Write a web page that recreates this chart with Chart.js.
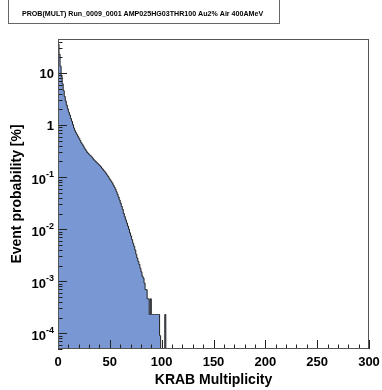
<!DOCTYPE html>
<html>
<head>
<meta charset="utf-8">
<script src="https://cdn.jsdelivr.net/npm/chart.js@4.4.1/dist/chart.umd.min.js"></script>
<style>
  html, body { margin: 0; padding: 0; background: #fff; }
  canvas { display: block; }
</style>
</head>
<body>
<canvas id="c" width="382" height="390"></canvas>
<script>
// Event probability [%] per KRAB multiplicity bin (bin m covers [m, m+1))
const binValues = [
  38.0, 36.0, 23.0, 13.5, 8.6, 6.2, 4.6, 3.55, 2.9, 2.42,
  2.05, 1.77, 1.56, 1.34, 1.18, 1.02, 0.88, 0.78, 0.71, 0.655,
  0.60, 0.555, 0.505, 0.46, 0.43, 0.40, 0.365, 0.34, 0.318, 0.296,
  0.283, 0.268, 0.258, 0.246, 0.233, 0.219, 0.208, 0.199, 0.190, 0.182,
  0.174, 0.166, 0.158, 0.148, 0.141, 0.132, 0.126, 0.118, 0.110, 0.103,
  0.0955, 0.0890, 0.0830, 0.0775, 0.0705, 0.0648, 0.0590, 0.0525, 0.0468, 0.0415,
  0.0363, 0.0318, 0.0275, 0.0240, 0.0200, 0.0174, 0.0151, 0.0132, 0.0115, 0.0100,
  0.0085, 0.0074, 0.0063, 0.0054, 0.0047, 0.0040, 0.0033, 0.0028, 0.0024, 0.0021,
  0.00178, 0.00152, 0.00126, 0.00115, 0.00092, 0.00069, 0.00069, 0.00046, 0.00046, 0.00023,
  0.00046, 0.00023, 0.00023, 0.00023, 0.00023, 0.00023, 0.00023, 0.00023, 0.00023, 0.00009,
  0, 0, 0, 0, 0.00023, 0
];
const multiplicity = binValues.map((_, i) => i);

const xTickValues = [0, 50, 100, 150, 200, 250, 300];
const yDecades = [1e-4, 1e-3, 1e-2, 1e-1, 1, 10];
const xRange = [0, 300];
const yRange = [5e-5, 45];
const histTitle = 'PROB(MULT) Run_0009_0001 AMP025HG03THR100 Au2% Air 400AMeV';

const FONT = '"Liberation Sans", Arial, Helvetica, sans-serif';

// title box in the top-left corner
const titleBox = {
  id: 'titleBox',
  afterDraw(chart) {
    const ctx = chart.ctx;
    ctx.save();
    ctx.fillStyle = '#fff';
    ctx.fillRect(8, -1, 272, 26);
    ctx.strokeStyle = '#666';
    ctx.lineWidth = 1;
    ctx.strokeRect(8.5, -1.5, 271, 25);
    ctx.fillStyle = '#000';
    ctx.font = 'bold 7.1px ' + FONT;
    ctx.textAlign = 'left';
    ctx.textBaseline = 'middle';
    ctx.fillText(histTitle, 22, 14);
    ctx.restore();
  }
};

// ROOT-style frame, inward ticks and power-of-ten labels
const rootAxes = {
  id: 'rootAxes',
  afterDatasetsDraw(chart) {
    const { ctx, chartArea, scales: { x, y } } = chart;
    const left = Math.round(chartArea.left), right = Math.round(chartArea.right);
    const top = Math.round(chartArea.top), bottom = Math.round(chartArea.bottom);
    ctx.save();
    ctx.strokeStyle = '#222';
    ctx.lineWidth = 1;
    ctx.beginPath();
    for (let v = xRange[0]; v <= xRange[1]; v += 10) {
      const px = Math.round(x.getPixelForValue(v)) + 0.5;
      const len = v % 50 === 0 ? 9 : 4.5;
      ctx.moveTo(px, bottom);
      ctx.lineTo(px, bottom - len);
    }
    for (let e = -5; e <= 1; e++) {
      for (let k = 1; k <= 9; k++) {
        const v = k * Math.pow(10, e);
        if (v < yRange[0] || v > yRange[1]) continue;
        const py = Math.round(y.getPixelForValue(v)) + 0.5;
        const len = k === 1 ? 9 : 4.5;
        ctx.moveTo(left, py);
        ctx.lineTo(left + len, py);
      }
    }
    ctx.stroke();
    ctx.strokeStyle = '#555';
    ctx.strokeRect(left + 0.5, top + 0.5, right - left - 1, bottom - top - 1);

    // y labels
    ctx.fillStyle = '#000';
    ctx.textBaseline = 'middle';
    const xr = 54;
    yDecades.forEach(v => {
      const py = y.getPixelForValue(v);
      const e = Math.round(Math.log10(v));
      ctx.textAlign = 'right';
      if (e === 0 || e === 1) {
        ctx.font = 'bold 13px ' + FONT;
        ctx.fillText(e === 0 ? '1' : '10', xr, py + 1);
      } else {
        ctx.font = 'bold 9px ' + FONT;
        const ex = String(e);
        const w = ctx.measureText(ex).width;
        ctx.fillText(ex, xr, py - 3);
        ctx.font = 'bold 13px ' + FONT;
        ctx.fillText('10', xr - w, py + 3);
      }
    });
    ctx.restore();
  }
};

new Chart(document.getElementById('c'), {
  type: 'line',
  data: {
    datasets: [{
      // empty bins sit on the lower edge of the log axis
      data: multiplicity.map((m, i) => ({ x: m, y: binValues[i] > 0 ? binValues[i] : yRange[0] })),
      stepped: 'after',
      borderColor: '#222',
      borderWidth: 1,
      backgroundColor: 'rgb(121,151,210)',
      fill: 'start',
      pointRadius: 0,
      tension: 0
    }]
  },
  options: {
    responsive: false,
    animation: false,
    devicePixelRatio: 1,
    layout: { padding: { left: 0, right: 13, top: 39, bottom: 0 } },
    plugins: { legend: { display: false }, tooltip: { enabled: false } },
    scales: {
      x: {
        type: 'linear',
        min: xRange[0], max: xRange[1],
        afterBuildTicks: s => { s.ticks = xTickValues.map(v => ({ value: v })); },
        grid: { display: false, drawTicks: false },
        border: { display: false },
        ticks: { color: '#000', font: { family: FONT, size: 13, weight: 'bold' }, padding: 6, maxRotation: 0, autoSkip: false },
        title: { display: true, text: 'KRAB Multiplicity', color: '#000',
                 font: { family: FONT, size: 14, weight: 'bold' }, padding: { top: 0, bottom: 1 } },
        afterFit: s => { s.height = 41; s.paddingLeft = 0; s.paddingRight = 0; }
      },
      y: {
        type: 'logarithmic',
        min: yRange[0], max: yRange[1],
        afterBuildTicks: s => { s.ticks = yDecades.map(v => ({ value: v })); },
        grid: { display: false, drawTicks: false },
        border: { display: false },
        ticks: { display: false },
        title: { display: true, text: 'Event probability [%]', color: '#000',
                 font: { family: FONT, size: 14, weight: 'bold' }, padding: { top: 9, bottom: 0 } },
        afterFit: s => { s.width = 58; s.paddingTop = 0; s.paddingBottom = 0; }
      }
    }
  },
  plugins: [rootAxes, titleBox]
});
</script>
</body>
</html>
